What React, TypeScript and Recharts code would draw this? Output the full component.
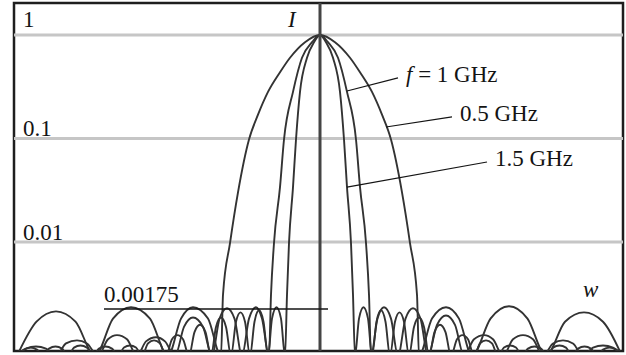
import { LineChart, Line, XAxis, YAxis, ReferenceLine, ReferenceArea, ReferenceDot } from 'recharts'

// w: horizontal position (arbitrary units, 0 = beam axis); L: log10 of intensity I
type Pt = [number, number]

const gridLevels = [0, -1, -2]
const gridLabels = ['1', '0.1', '0.01']
const markLevel = -2.647
const markLabel = '0.00175'
const markSpan: [number, number] = [-43.2, 1.6]

const seriesNames = ['0.5 GHz', 'f = 1 GHz', '1.5 GHz']

// pointer lines: [point on curve, label end]
const pointers: Record<string, [Pt, Pt]> = {
  '0.5 GHz': [[13.2, -0.889], [26.4, -0.792]],
  'f = 1 GHz': [[5.4, -0.541], [15.6, -0.415]],
  '1.5 GHz': [[5.4, -1.469], [33.4, -1.227]],
}

const s05: Pt[] = [
  [-60.6, -3.1], [-56.7, -2.77], [-52.8, -2.67], [-48.9, -2.77], [-45, -3.1],
  [-41.4, -2.74], [-37.8, -2.63], [-34, -2.74], [-30.4, -3.1],
  [-27.8, -2.74], [-25.4, -2.63], [-22.4, -2.74], [-19.8, -3.1],
  [-19.4, -2.51], [-18, -2.01], [-16.4, -1.52], [-14.2, -1.01], [-12.4, -0.77], [-10.4, -0.55],
  [-8, -0.36], [-6, -0.22], [-3, -0.07], [0, 0],
  [3, -0.07], [6, -0.22], [8, -0.36], [10.4, -0.55], [12.4, -0.77], [14.2, -1.01],
  [16.4, -1.52], [18, -2.01], [19.4, -2.51], [19.8, -3.1],
  [22.4, -2.74], [25.2, -2.63], [27.8, -2.74], [30.4, -3.1],
  [34.1, -2.74], [37.8, -2.62], [41.5, -2.74], [45.2, -3.1],
  [49, -2.77], [52.8, -2.68], [56.6, -2.77], [60.4, -3.1],
]

const s1: Pt[] = [
  [-60.8, -3.1], [-58.8, -3.03], [-56.8, -3.01], [-54.8, -3.03], [-52.8, -3.1],
  [-50.8, -2.98], [-48.6, -2.95], [-46.6, -2.98], [-44.4, -3.1],
  [-42.4, -2.94], [-40.6, -2.9], [-38.6, -2.94], [-36.6, -3.1],
  [-34.8, -2.96], [-32.8, -2.92], [-31, -2.96], [-29, -3.1],
  [-27.2, -2.82], [-25.4, -2.73], [-23.4, -2.82], [-21.6, -3.1],
  [-20.1, -2.74], [-18.6, -2.64], [-17.1, -2.74], [-15.6, -3.1],
  [-14.2, -2.74], [-12.8, -2.63], [-11.6, -2.74], [-10.2, -3.1],
  [-9.8, -2.51], [-9.2, -2.01], [-8, -1.47], [-7.2, -1.01], [-5.4, -0.55], [-3.6, -0.22], [-1.6, -0.07], [0, 0],
  [1.6, -0.07], [3.6, -0.22], [5.4, -0.55], [7.2, -1.01], [8, -1.47], [9.2, -2.01], [9.8, -2.51], [10.2, -3.1],
  [11.5, -2.74], [12.8, -2.63], [14.2, -2.74], [15.6, -3.1],
  [17.1, -2.74], [18.6, -2.64], [20.1, -2.74], [21.6, -3.1],
  [23.4, -2.8], [25.2, -2.71], [27, -2.8], [28.8, -3.1],
  [30.8, -2.94], [32.8, -2.9], [34.6, -2.94], [36.6, -3.1],
  [38.6, -2.94], [40.6, -2.9], [42.6, -2.94], [44.6, -3.1],
  [46.6, -2.98], [48.6, -2.95], [50.6, -2.98], [52.6, -3.1],
  [54.6, -3.02], [56.6, -3.0], [58.6, -3.02], [60.6, -3.1],
]

const s15: Pt[] = [
  [-60.4, -3.1], [-59.2, -3.04], [-57.9, -3.02], [-56.6, -3.04], [-55.4, -3.1],
  [-54.2, -3.03], [-52.9, -3.01], [-51.6, -3.03], [-50.4, -3.1],
  [-49.2, -3.02], [-47.9, -3.0], [-46.6, -3.02], [-45.4, -3.1],
  [-44.2, -3.03], [-42.9, -3.01], [-41.6, -3.03], [-40.4, -3.1],
  [-39.2, -3.02], [-38, -3.0], [-36.8, -3.02], [-35.6, -3.1],
  [-34.4, -2.98], [-33.2, -2.95], [-32, -2.98], [-30.8, -3.1],
  [-29.6, -2.94], [-28.5, -2.9], [-27.4, -2.94], [-26.2, -3.1],
  [-25.1, -2.87], [-24, -2.8], [-22.9, -2.87], [-21.8, -3.1],
  [-20.8, -2.82], [-19.8, -2.73], [-18.8, -2.82], [-17.8, -3.1],
  [-16.8, -2.77], [-15.9, -2.68], [-15, -2.77], [-14, -3.1],
  [-13.1, -2.77], [-12.2, -2.66], [-11.3, -2.77], [-10.4, -3.1],
  [-9.6, -2.74], [-8.7, -2.63], [-7.8, -2.74], [-7, -3.1],
  [-6.6, -2.51], [-6.2, -2.01], [-5.4, -1.47], [-4.8, -1.01], [-4, -0.55], [-2.6, -0.22], [-1.2, -0.07], [0, 0],
  [1.2, -0.07], [2.6, -0.22], [4, -0.55], [4.8, -1.01], [5.4, -1.47], [6.2, -2.01], [6.6, -2.51], [7, -3.1],
  [7.8, -2.74], [8.7, -2.63], [9.6, -2.74], [10.4, -3.1],
  [11.3, -2.77], [12.2, -2.66], [13.1, -2.77], [14, -3.1],
  [15, -2.77], [15.9, -2.68], [16.8, -2.77], [17.8, -3.1],
  [18.8, -2.82], [19.8, -2.73], [20.8, -2.82], [21.8, -3.1],
  [22.9, -2.87], [24, -2.8], [25.1, -2.87], [26.2, -3.1],
  [27.4, -2.94], [28.5, -2.9], [29.6, -2.94], [30.8, -3.1],
  [32, -2.98], [33.2, -2.95], [34.4, -2.98], [35.6, -3.1],
  [36.8, -3.02], [38, -3.0], [39.2, -3.02], [40.4, -3.1],
  [41.6, -3.03], [42.9, -3.01], [44.2, -3.03], [45.4, -3.1],
  [46.6, -3.02], [47.9, -3.0], [49.2, -3.02], [50.4, -3.1],
  [51.6, -3.03], [52.9, -3.01], [54.2, -3.03], [55.4, -3.1],
  [56.6, -3.04], [57.9, -3.02], [59.2, -3.04], [60.4, -3.1],
]

const xDomain: [number, number] = [-61.2, 60.6]
const yDomain: [number, number] = [-3.053, 0.309]

const serif = '"Liberation Serif", "Times New Roman", serif'
const ink = '#141414'
const curve = '#333333'
const fontSize = 23

const toRows = (pts: Pt[]) => pts.map(([w, L]) => ({ w, L }))

export default function App() {
  const curves = [s05, s1, s15]

  const gridLabel = (text: string, lift: number) => (props: any) => {
    const { x, y } = props.viewBox
    return (
      <text x={x + 9} y={y - lift} fontSize={fontSize} fontFamily={serif} fill={ink}>
        {text}
      </text>
    )
  }

  const calloutLabel = (name: string) => (props: any) => {
    const { x, y, width } = props.viewBox
    const italicF = name.startsWith('f ')
    return (
      <text x={x + width + 8} y={y + 4} fontSize={fontSize} fontFamily={serif} fill={ink}>
        {italicF ? (
          <>
            <tspan fontStyle='italic'>f</tspan>
            <tspan>{name.slice(1)}</tspan>
          </>
        ) : (
          name
        )}
      </text>
    )
  }

  return (
    <div style={{ position: 'absolute', left: 0, top: 0, background: '#fff' }}>
      <LineChart width={626} height={355} margin={{ top: 3, right: 3, bottom: 4, left: 14 }}>
        <XAxis type='number' dataKey='w' domain={xDomain} allowDataOverflow hide />
        <YAxis type='number' dataKey='L' domain={yDomain} allowDataOverflow hide />

        {gridLevels.map((lvl, i) => (
          <ReferenceLine
            key={lvl}
            y={lvl}
            stroke='#c6c6c6'
            strokeWidth={3}
            label={gridLabel(gridLabels[i], i === 0 ? 8 : 2)}
          />
        ))}

        {curves.map((pts, i) => (
          <Line
            key={seriesNames[i]}
            data={toRows(pts)}
            dataKey='L'
            type='monotone'
            stroke={curve}
            strokeWidth={1.9}
            dot={false}
            activeDot={false}
            isAnimationActive={false}
          />
        ))}

        <ReferenceLine
          x={0}
          stroke='#444444'
          strokeWidth={3}
          label={(props: any) => (
            <text
              x={props.viewBox.x - 32}
              y={props.viewBox.y + 24}
              fontSize={fontSize}
              fontStyle='italic'
              fontFamily={serif}
              fill={ink}
            >
              I
            </text>
          )}
        />

        <ReferenceLine
          segment={[
            { x: markSpan[0], y: markLevel },
            { x: markSpan[1], y: markLevel },
          ]}
          stroke={ink}
          strokeWidth={1.3}
          label={(props: any) => (
            <text x={props.viewBox.x} y={props.viewBox.y - 7} fontSize={fontSize} fontFamily={serif} fill={ink}>
              {markLabel}
            </text>
          )}
        />

        {seriesNames.map((name) => (
          <ReferenceLine
            key={name}
            segment={[
              { x: pointers[name][0][0], y: pointers[name][0][1] },
              { x: pointers[name][1][0], y: pointers[name][1][1] },
            ]}
            stroke={ink}
            strokeWidth={1.2}
            label={calloutLabel(name)}
          />
        ))}

        <ReferenceDot
          x={52.6}
          y={-2.53}
          r={0}
          shape={(p: any) => (
            <text x={p.cx} y={p.cy} fontSize={fontSize} fontStyle='italic' fontFamily={serif} fill={ink}>
              w
            </text>
          )}
        />

        <ReferenceArea
          x1={xDomain[0]}
          x2={xDomain[1]}
          y1={yDomain[0]}
          y2={yDomain[1]}
          fill='none'
          fillOpacity={0}
          stroke='#1e1e1e'
          strokeWidth={2.5}
        />
      </LineChart>
    </div>
  )
}
